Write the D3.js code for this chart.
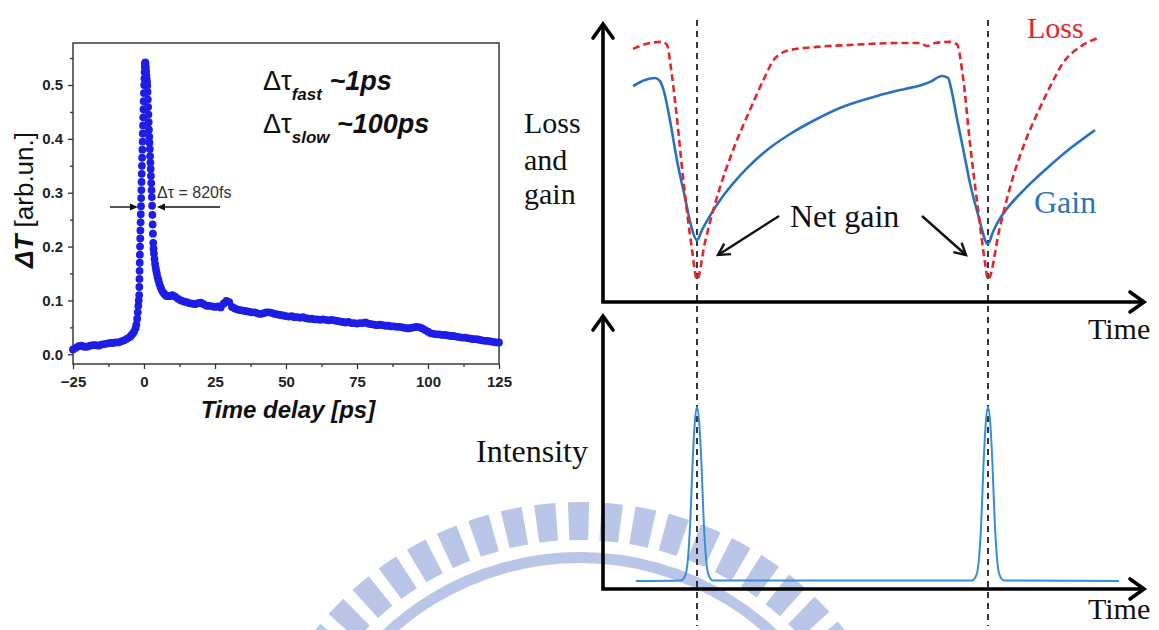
<!DOCTYPE html>
<html>
<head>
<meta charset="utf-8">
<script src="https://cdn.jsdelivr.net/npm/d3@7"></script>
<style>
body { margin: 0; background: #fff; }
svg { display: block; }
</style>
</head>
<body>
<svg id="fig" width="1159" height="630"></svg>
<script>
// ---------- left panel: measured transient (dT vs delay) ----------
// rise + peak + fast decay, read off the picture
var peakT = [-25,-24,-23,-22,-21,-20,-19,-18,-17,-16,-15,-14,-13,-12,-11,-10,-9,-8,-7,-6,-5,-4.5,-4,-3.5,-3,-2.7,-2.4,-2.2,-2.0,-1.85,
  -1.70,-1.65,-1.60,-1.55,-1.50,-1.45,-1.40,-1.33,-1.27,-1.20,-1.13,-1.06,-1.00,-0.93,-0.86,-0.80,-0.73,-0.66,-0.58,-0.50,-0.43,-0.35,-0.27,-0.19,-0.11,-0.03,0.05,0.13,0.21,0.29,0.37,0.45,
  0.55,0.65,0.75,0.85,0.95,1.05,1.15,1.25,1.35,1.45,1.55,1.65,1.75,1.85,1.95,2.05,2.15,2.25,2.35,2.45,2.55,2.65,2.75,2.85,2.95,3.05,3.15,3.25,3.35,3.5,3.7,3.9,4.1,4.3,4.5,4.8,5.1,5.4,5.8,6.2,6.7,7.2,7.7,8.2];
var peakV = [0.009,0.012,0.015,0.016,0.014,0.014,0.016,0.017,0.017,0.016,0.018,0.019,0.020,0.021,0.021,0.022,0.022,0.024,0.026,0.029,0.032,0.035,0.038,0.042,0.048,0.055,0.066,0.078,0.090,0.100,
  0.110,0.125,0.140,0.155,0.170,0.185,0.200,0.215,0.230,0.245,0.260,0.275,0.290,0.305,0.320,0.335,0.350,0.365,0.380,0.395,0.410,0.425,0.440,0.455,0.470,0.485,0.500,0.512,0.524,0.534,0.540,0.542,
  0.538,0.532,0.525,0.518,0.511,0.505,0.499,0.487,0.473,0.459,0.445,0.431,0.417,0.404,0.393,0.381,0.368,0.356,0.344,0.331,0.318,0.305,0.292,0.276,0.259,0.241,0.224,0.207,0.196,0.187,0.177,0.168,0.161,0.155,0.150,0.143,0.137,0.131,0.125,0.120,0.115,0.112,0.109,0.108];
// slow tail, one value per ps starting at tailStart
var tailStart = 9;
var tailV = [0.108,0.110,0.107,0.103,0.100,0.098,0.097,0.095,0.094,0.093,
  0.095,0.096,0.093,0.090,0.090,0.089,0.088,0.089,0.087,0.094,
  0.099,0.097,0.088,0.085,0.083,0.082,0.081,0.080,0.079,0.078,
  0.078,0.076,0.075,0.076,0.078,0.078,0.077,0.075,0.074,0.073,
  0.072,0.071,0.070,0.071,0.069,0.069,0.068,0.069,0.067,0.066,
  0.066,0.065,0.065,0.064,0.065,0.064,0.063,0.064,0.063,0.062,
  0.061,0.060,0.059,0.060,0.058,0.058,0.057,0.058,0.058,0.059,
  0.057,0.056,0.055,0.054,0.055,0.054,0.053,0.053,0.052,0.052,
  0.051,0.051,0.050,0.049,0.048,0.049,0.050,0.051,0.050,0.048,
  0.045,0.042,0.039,0.038,0.037,0.037,0.036,0.036,0.035,0.034,
  0.034,0.033,0.032,0.031,0.031,0.030,0.029,0.028,0.028,0.027,
  0.026,0.025,0.025,0.024,0.023,0.022,0.022];
var xTicks = [-25, 0, 25, 50, 75, 100, 125];
var xMinor = [-12.5, 12.5, 37.5, 62.5, 87.5, 112.5];
var yTicks = [0, 0.1, 0.2, 0.3, 0.4, 0.5];
var yMinor = [0.05, 0.15, 0.25, 0.35, 0.45, 0.55];

// ---------- right panel: schematic of loss / gain / intensity ----------
var lossT = [0.780,0.838,0.880,0.897,0.910,0.928,0.952,0.983,1.000,1.027,1.069,1.124,1.182,1.227,1.268,1.320,1.400,1.526,1.698,1.766,1.790,1.818,1.869,1.893,1.914,1.938,1.966,1.990,2.000,2.041,2.086,2.134,2.168,2.213,2.258,2.316,2.378];
var lossV = [0.904,0.925,0.929,0.918,0.840,0.686,0.446,0.186,0.080,0.211,0.375,0.543,0.686,0.790,0.870,0.900,0.910,0.918,0.925,0.925,0.914,0.925,0.929,0.921,0.804,0.568,0.329,0.139,0.080,0.268,0.446,0.589,0.670,0.768,0.854,0.911,0.943];
var gainT = [0.780,0.821,0.856,0.873,0.887,0.907,0.931,0.959,0.979,1.000,1.017,1.034,1.062,1.089,1.131,1.172,1.241,1.320,1.405,1.491,1.619,1.715,1.773,1.801,1.842,1.863,1.873,1.893,1.914,1.938,1.966,2.000,2.017,2.034,2.065,2.127,2.203,2.282,2.368];
var gainV = [0.771,0.793,0.800,0.789,0.750,0.650,0.507,0.371,0.275,0.221,0.257,0.289,0.337,0.378,0.432,0.478,0.543,0.600,0.650,0.693,0.736,0.761,0.775,0.786,0.807,0.800,0.764,0.657,0.550,0.425,0.311,0.207,0.250,0.286,0.333,0.404,0.478,0.548,0.614];
var pulseT = [0.790,0.945,0.9553,0.9639,0.9708,0.9777,0.9845,0.9921,1.000,1.0079,1.0155,1.0223,1.0292,1.0361,1.0447,1.055,
  1.945,1.9553,1.9639,1.9708,1.9777,1.9845,1.9921,2.000,2.0079,2.0155,2.0223,2.0292,2.0361,2.0447,2.055,2.450];
var pulseV = [0.029,0.031,0.040,0.066,0.135,0.265,0.450,0.600,0.662,0.600,0.450,0.265,0.135,0.066,0.040,0.031,
  0.031,0.040,0.066,0.135,0.265,0.450,0.600,0.662,0.600,0.450,0.265,0.135,0.066,0.040,0.031,0.029];
var pulseTimes = [1, 2];

var svg = d3.select('#fig');
var sans = 'Arial, "Liberation Sans", sans-serif';
var serif = '"Times New Roman", "Liberation Serif", serif';

// watermark (faint logo behind everything)
var wm = svg.append('g').attr('transform', 'translate(580,840)').attr('fill', '#bac6e7');
var arc = d3.arc();
d3.range(-52, 53, 5.75).forEach(function(a) {
    wm.append('path').attr('d', arc({innerRadius: 300, outerRadius: 338,
        startAngle: (a - 1.8) * Math.PI / 180, endAngle: (a + 1.8) * Math.PI / 180}));
});
wm.append('path').attr('d', arc({innerRadius: 277, outerRadius: 288, startAngle: -1.1, endAngle: 1.1}));

// ---- left chart ----
var x = d3.scaleLinear().domain([-25, 125]).range([73, 499]);
var y = d3.scaleLinear().domain([0, 0.5]).range([354.3, 85]);
var left = svg.append('g');

var xa = left.append('g').attr('transform', 'translate(0,364)')
    .call(d3.axisBottom(x).tickValues(xTicks).tickSize(5).tickSizeOuter(0).tickPadding(4));
left.append('g').attr('transform', 'translate(0,364)')
    .call(d3.axisBottom(x).tickValues(xMinor).tickSize(3).tickSizeOuter(0).tickFormat(''));
var ya = left.append('g').attr('transform', 'translate(73,0)')
    .call(d3.axisLeft(y).tickValues(yTicks).tickSize(5).tickSizeOuter(0).tickPadding(5).tickFormat(d3.format('.1f')));
left.append('g').attr('transform', 'translate(73,0)')
    .call(d3.axisLeft(y).tickValues(yMinor).tickSize(3).tickSizeOuter(0).tickFormat(''));
left.selectAll('.domain').remove();
left.selectAll('.tick line').attr('stroke', '#333').attr('stroke-width', 1.3);
left.selectAll('.tick text').attr('font-family', sans).attr('font-weight', 'bold')
    .attr('font-size', 15).attr('fill', '#222');
xa.selectAll('.tick text').attr('dy', '0.9em');

left.append('rect').attr('x', 73).attr('y', 43).attr('width', 426).attr('height', 321)
    .attr('fill', 'none').attr('stroke', '#3a3a3a').attr('stroke-width', 1.5);

var pts = peakT.map(function(t, i) { return [t, peakV[i]]; });
tailV.forEach(function(v, i) { pts.push([tailStart + i, v]); });

left.append('path').datum(pts)
    .attr('d', d3.line().x(function(d) { return x(d[0]); }).y(function(d) { return y(d[1]); }))
    .attr('fill', 'none').attr('stroke', '#555').attr('stroke-width', 0.9).attr('stroke-dasharray', '1.5,1.5');
left.append('g').selectAll('circle').data(pts).enter().append('circle')
    .attr('cx', function(d) { return x(d[0]); })
    .attr('cy', function(d) { return y(d[1]); })
    .attr('r', 3.9)
    .attr('fill', '#1d1de6');

// axis titles
left.append('text').attr('x', 288).attr('y', 418).attr('text-anchor', 'middle')
    .attr('font-family', sans).attr('font-weight', 'bold').attr('font-style', 'italic')
    .attr('font-size', 24).attr('fill', '#111').text('Time delay [ps]');
var yt = left.append('text').attr('transform', 'translate(33,200) rotate(-90)').attr('text-anchor', 'middle')
    .attr('font-family', sans).attr('font-size', 26).attr('fill', '#111');
yt.append('tspan').attr('font-weight', 'bold').attr('font-style', 'italic').text('\u0394T');
yt.append('tspan').text(' [arb.un.]');

// time constant notes
function tauLabel(yb, sub, val) {
    var t = left.append('text').attr('x', 263).attr('y', yb).attr('font-family', sans)
        .attr('font-size', 27).attr('fill', '#111');
    t.append('tspan').text('\u0394\u03c4');
    t.append('tspan').attr('dy', 10).attr('font-size', 17).attr('font-weight', 'bold').attr('font-style', 'italic').text(sub);
    t.append('tspan').attr('dy', -10).attr('font-weight', 'bold').attr('font-style', 'italic').text(' ' + val);
}
tauLabel(90, 'fast', '~1ps');
tauLabel(133, 'slow', '~100ps');

left.append('text').attr('x', 157).attr('y', 198).attr('font-family', sans).attr('font-size', 16)
    .attr('fill', '#333').text('\u0394\u03c4 = 820fs');
left.append('line').attr('x1', 110).attr('x2', 136).attr('y1', 207).attr('y2', 207).attr('stroke', '#111').attr('stroke-width', 1.4);
left.append('path').attr('d', 'M138,207 L130,203.5 L130,210.5 Z').attr('fill', '#111');
left.append('line').attr('x1', 220).attr('x2', 159).attr('y1', 207).attr('y2', 207).attr('stroke', '#111').attr('stroke-width', 1.4);
left.append('path').attr('d', 'M157,207 L165,203.5 L165,210.5 Z').attr('fill', '#111');

// ---- right schematic ----
var sx = d3.scaleLinear().domain([0, 3]).range([406, 1279]);
var sy = d3.scaleLinear().domain([0, 1]).range([302, 22]);
var iy = d3.scaleLinear().domain([0, 1]).range([589, 314]);
var right = svg.append('g');

// dashed markers at pulse times
right.selectAll('line.mark').data(pulseTimes).enter().append('line')
    .attr('x1', function(d) { return sx(d); }).attr('x2', function(d) { return sx(d); })
    .attr('y1', 20).attr('y2', 626)
    .attr('stroke', '#222').attr('stroke-width', 1.8).attr('stroke-dasharray', '6,5');

var curve = d3.curveMonotoneX;
right.append('path').datum(gainT.map(function(t, i) { return [t, gainV[i]]; }))
    .attr('d', d3.line().curve(curve).x(function(d) { return sx(d[0]); }).y(function(d) { return sy(d[1]); }))
    .attr('fill', 'none').attr('stroke', '#2a72bd').attr('stroke-width', 2.6);
right.append('path').datum(lossT.map(function(t, i) { return [t, lossV[i]]; }))
    .attr('d', d3.line().curve(curve).x(function(d) { return sx(d[0]); }).y(function(d) { return sy(d[1]); }))
    .attr('fill', 'none').attr('stroke', '#e3262b').attr('stroke-width', 2.6).attr('stroke-dasharray', '7,4');
right.append('path').datum(pulseT.map(function(t, i) { return [t, pulseV[i]]; }))
    .attr('d', d3.line().curve(curve).x(function(d) { return sx(d[0]); }).y(function(d) { return iy(d[1]); }))
    .attr('fill', 'none').attr('stroke', '#3a8ed8').attr('stroke-width', 2);

// axes with open arrow heads
function axisArrows(yBase, yTop) {
    right.append('path').attr('d', 'M603,' + yTop + ' L603,' + yBase + ' L1144,' + yBase)
        .attr('fill', 'none').attr('stroke', '#000').attr('stroke-width', 3.6).attr('stroke-linejoin', 'miter');
    right.append('path').attr('d', 'M593,' + (yTop + 14) + ' L603,' + yTop + ' L613,' + (yTop + 14))
        .attr('fill', 'none').attr('stroke', '#000').attr('stroke-width', 3.6).attr('stroke-linecap', 'round');
    right.append('path').attr('d', 'M1130,' + (yBase - 10) + ' L1144,' + yBase + ' L1130,' + (yBase + 10))
        .attr('fill', 'none').attr('stroke', '#000').attr('stroke-width', 3.6).attr('stroke-linecap', 'round');
}
axisArrows(302, 24);
axisArrows(589, 316);

function label(txt, xp, yp, size, color) {
    right.append('text').attr('x', xp).attr('y', yp).attr('font-family', serif)
        .attr('font-size', size).attr('fill', color).text(txt);
}
label('Loss', 524, 133, 30, '#111');
label('and', 524, 170, 30, '#111');
label('gain', 524, 204, 30, '#111');
label('Intensity', 476, 462, 32, '#111');
label('Time', 1088, 339, 30, '#111');
label('Time', 1088, 619, 30, '#111');
label('Loss', 1027, 38, 30, '#e3262b');
label('Gain', 1034, 213, 32, '#2a72bd');
label('Net gain', 790, 227, 32, '#111');

// arrows pointing to net gain windows
function pointer(x1, y1, x2, y2) {
    right.append('line').attr('x1', x1).attr('y1', y1).attr('x2', x2).attr('y2', y2)
        .attr('stroke', '#111').attr('stroke-width', 2.4);
    var a = Math.atan2(y2 - y1, x2 - x1), L = 13, w = 0.5;
    right.append('path').attr('d', 'M' + (x2 - L * Math.cos(a - w)) + ',' + (y2 - L * Math.sin(a - w)) +
        ' L' + x2 + ',' + y2 + ' L' + (x2 - L * Math.cos(a + w)) + ',' + (y2 - L * Math.sin(a + w)))
        .attr('fill', 'none').attr('stroke', '#111').attr('stroke-width', 2.4);
}
pointer(779, 216, 718, 255);
pointer(922, 216, 966, 255);
</script>
</body>
</html>
